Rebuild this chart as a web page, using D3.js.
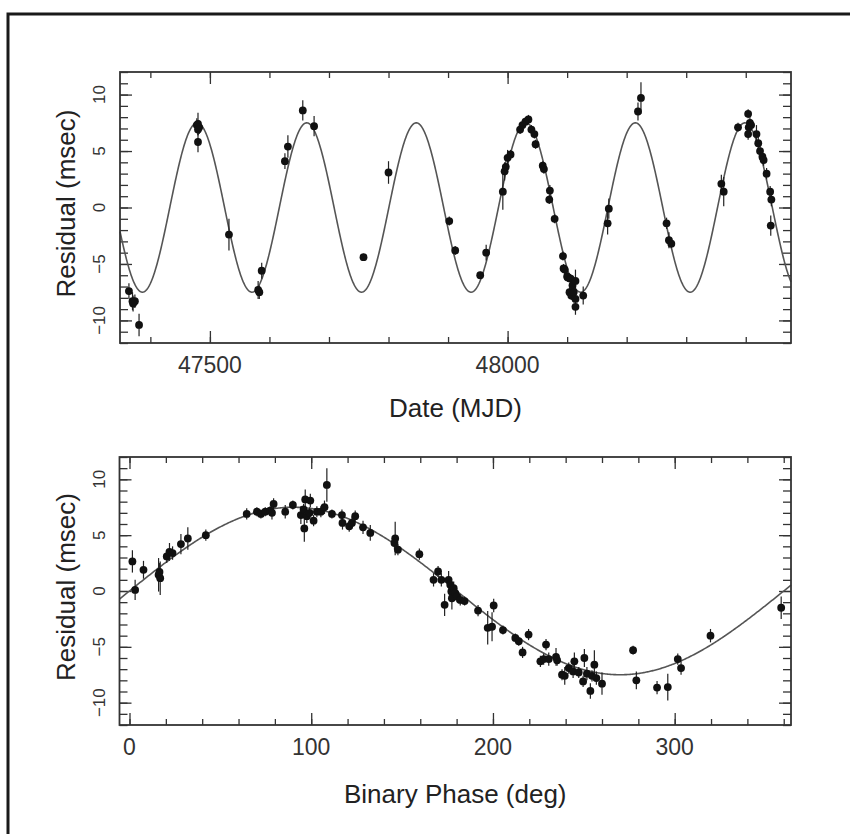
<!DOCTYPE html>
<html>
<head>
<meta charset="utf-8">
<script src="https://cdn.jsdelivr.net/npm/d3@7"></script>
<style>
  html, body { margin: 0; padding: 0; background: #fff; }
  svg { display: block; }
</style>
</head>
<body>
<svg width="850" height="834"></svg>
<script>
// top panel: timing residuals vs date
var topDate = [47364, 47370, 47374, 47371, 47381, 47478, 47480, 47482, 47480, 47480,
  47532, 47581, 47583, 47587, 47626, 47631, 47656, 47675, 47758, 47800,
  47902, 47912, 47954, 47964, 47992, 47995, 47997, 48000, 48005, 48021,
  48025, 48030, 48035, 48040, 48045, 48047, 48059, 48061, 48071, 48070,
  48079, 48093, 48094, 48096, 48100, 48101, 48104, 48106, 48107, 48109,
  48111, 48114, 48114, 48114, 48127, 48168, 48170, 48219, 48224, 48267,
  48271, 48275, 48359, 48363, 48387, 48404, 48407, 48405, 48404, 48409,
  48418, 48421, 48424, 48428, 48430, 48435, 48441, 48443, 48442];
var topRes = [-7.4, -8.3, -8.3, -8.5, -10.4, 7.3, 7.4, 7.1, 6.9, 5.8,
  -2.4, -7.3, -7.5, -5.6, 4.1, 5.4, 8.6, 7.2, -4.4, 3.1,
  -1.2, -3.8, -6.0, -4.0, 1.4, 3.2, 3.6, 4.4, 4.7, 6.9,
  7.3, 7.6, 7.8, 6.9, 6.5, 5.6, 3.7, 3.4, 1.5, 0.7,
  -1.0, -4.3, -5.4, -5.5, -6.1, -6.2, -7.5, -6.3, -7.8, -6.9,
  -7.5, -6.5, -8.1, -8.8, -7.8, -1.4, -0.1, 8.5, 9.7, -1.4,
  -2.9, -3.2, 2.1, 1.4, 7.1, 8.3, 7.5, 7.1, 6.5, 7.3,
  6.5, 5.7, 5.0, 4.5, 4.2, 3.0, 1.4, 0.7, -1.6];
var topErr = [0.7, 0.8, 0.6, 0.7, 1.0, 0.6, 1.0, 0.6, 0.5, 0.9,
  1.4, 0.8, 0.6, 0.7, 0.7, 1.0, 0.9, 0.9, 0.3, 1.0,
  0.4, 0.4, 0.3, 0.7, 1.6, 0.8, 0.5, 0.7, 0.4, 0.4,
  0.4, 0.4, 0.4, 0.4, 0.4, 0.4, 0.4, 0.4, 0.5, 0.4,
  0.4, 0.4, 0.4, 0.4, 0.4, 0.4, 0.4, 0.4, 0.4, 0.4,
  0.4, 1.0, 0.4, 0.7, 0.8, 1.0, 0.9, 0.8, 1.4, 0.5,
  0.7, 0.4, 0.8, 1.3, 0.4, 0.4, 0.8, 0.5, 0.5, 0.5,
  0.8, 0.6, 0.8, 0.6, 0.5, 0.5, 0.5, 0.6, 0.9];

// bottom panel: same residuals folded on binary phase
var phaseDeg = [1.6, 3.1, 7.7, 16, 16.9, 16.5, 20.5, 22, 23.7, 28.3,
  32.1, 42, 64.5, 70.1, 72.3, 74.7, 77.4, 79.3, 78.4, 85.7,
  89.9, 94.3, 95.8, 96.7, 99.5, 96.2, 97.6, 99.1, 101.3, 103.1,
  105.3, 107.3, 108.6, 111.4, 116.9, 117.2, 120.9, 122.4, 124.2, 128.5,
  132.5, 146.2, 145.8, 147.7, 159.5, 167.3, 169.8, 171.6, 173.4, 175.6,
  176.5, 177.1, 177.4, 178.4, 179.3, 180.2, 182, 184.4, 191.8, 200.4,
  197.1, 199.5, 205.5, 212.3, 214.2, 216.3, 219.6, 226.1, 227.9, 229.2,
  230.7, 234.7, 235.3, 238, 239.5, 241.7, 244.1, 244.8, 247.2, 249.6,
  250.3, 251.7, 253.6, 254.5, 255.8, 256.9, 260, 277.1, 278.9, 290.3,
  296.2, 301.7, 303.5, 319.7, 358.6];
var phaseRes = [2.65, 0.1, 1.9, 1.45, 1.15, 1.7, 3.1, 3.5, 3.4, 4.2,
  4.7, 5.0, 6.9, 7.1, 6.9, 7.1, 7.2, 7.8, 7.0, 7.1,
  7.7, 6.8, 7.3, 8.2, 8.1, 5.6, 6.7, 7.0, 6.3, 7.1,
  7.1, 7.5, 9.5, 6.9, 6.8, 6.1, 5.8, 6.1, 6.7, 5.7,
  5.2, 4.7, 4.3, 3.7, 3.3, 1.0, 1.75, 1.0, -1.24, 1.0,
  0.56, -0.04, -0.65, 0.25, -0.2, -0.5, -0.8, -0.9, -1.75, -1.3,
  -3.3, -3.2, -3.5, -4.2, -4.5, -5.5, -3.9, -6.3, -6.1, -4.8,
  -6.1, -5.9, -6.2, -7.5, -7.6, -6.9, -7.2, -6.3, -7.3, -8.1,
  -6.0, -7.4, -8.95, -7.6, -6.6, -7.8, -8.3, -5.3, -8.0, -8.65,
  -8.6, -6.1, -6.9, -4.0, -1.5];
var phaseErr = [1.0, 0.9, 0.8, 1.5, 1.5, 0.8, 0.6, 0.8, 0.6, 0.9,
  1.0, 0.5, 0.5, 0.4, 0.4, 0.4, 0.4, 0.5, 0.6, 0.6,
  0.4, 0.8, 0.5, 0.9, 0.6, 1.2, 0.6, 0.5, 0.5, 0.5,
  0.5, 0.6, 1.5, 0.4, 0.5, 0.6, 0.5, 0.5, 0.5, 0.6,
  0.7, 1.5, 0.6, 0.5, 0.5, 0.6, 0.5, 0.6, 1.0, 0.8,
  0.6, 0.9, 1.0, 0.6, 0.6, 0.5, 0.5, 0.4, 0.5, 0.6,
  1.5, 1.3, 0.4, 0.4, 0.4, 0.5, 0.5, 0.5, 0.5, 0.5,
  0.6, 0.8, 0.5, 0.5, 0.8, 0.5, 0.6, 0.8, 0.5, 0.5,
  0.8, 0.6, 0.7, 0.5, 1.3, 0.6, 1.0, 0.4, 0.8, 0.6,
  1.2, 0.5, 0.6, 0.6, 1.0];

// fitted orbit (msec, days, MJD of maximum)
var orbitAmp = 7.5, orbitPeriod = 184, orbitMaxEpoch = 47478.6;

var dateTicks = [47500, 48000], phaseTicks = [0, 100, 200, 300], resTicks = [-10, -5, 0, 5, 10];

var svg = d3.select('svg');
var FONT = '"Liberation Sans", Arial, Helvetica, sans-serif';

// page frame
svg.append('rect')
  .attr('x', 8).attr('y', 14).attr('width', 900).attr('height', 900)
  .attr('fill', 'none').attr('stroke', '#1a1a1a').attr('stroke-width', 3);

function panel(opt) {
  var g = svg.append('g');
  var x = d3.scaleLinear().domain(opt.xDomain).range([opt.left, opt.right]);
  var y = d3.scaleLinear().domain([-12, 12]).range([opt.bottom, opt.top]);

  function axes(gen, tx, ty, vals, size) {
    var a = g.append('g').attr('transform', 'translate(' + tx + ',' + ty + ')')
      .call(gen.tickValues(vals).tickSize(-size).tickFormat(''));
    a.select('.domain').remove();
    a.selectAll('line').attr('stroke', '#333').attr('stroke-width', 1.3);
    return a;
  }
  var xMinor = d3.range(opt.xMinorStart, opt.xDomain[1], opt.xMinorStep);
  var yMinor = d3.range(-12, 13, 1);
  axes(d3.axisBottom(x), 0, opt.bottom, xMinor, 6);
  axes(d3.axisTop(x), 0, opt.top, xMinor, 6);
  axes(d3.axisBottom(x), 0, opt.bottom, opt.xMajor, 12);
  axes(d3.axisTop(x), 0, opt.top, opt.xMajor, 12);
  axes(d3.axisLeft(y), opt.left, 0, yMinor, 8);
  axes(d3.axisRight(y), opt.right, 0, yMinor, 8);
  axes(d3.axisLeft(y), opt.left, 0, resTicks, 12);
  axes(d3.axisRight(y), opt.right, 0, resTicks, 12);

  // tick labels
  var fmt = d3.format('d');
  g.append('g').selectAll('text').data(opt.xMajor).join('text')
    .attr('x', function(d) { return x(d); })
    .attr('y', opt.bottom + 30)
    .attr('text-anchor', 'middle')
    .attr('font-family', FONT).attr('font-size', opt.xTickSize)
    .attr('fill', '#333')
    .text(function(d) { return d; });
  g.append('g').selectAll('text').data(resTicks).join('text')
    .attr('transform', function(d) { return 'translate(' + (opt.left - 15) + ',' + y(d) + ') rotate(-90)'; })
    .attr('text-anchor', 'middle')
    .attr('font-family', FONT).attr('font-size', 17)
    .attr('fill', '#333')
    .text(function(d) { return fmt(d); });

  // axis titles
  g.append('text')
    .attr('x', (opt.left + opt.right) / 2).attr('y', opt.bottom + opt.titleGap)
    .attr('text-anchor', 'middle')
    .attr('font-family', FONT).attr('font-size', 26).attr('fill', '#222')
    .text(opt.xTitle);
  g.append('text')
    .attr('transform', 'translate(75,' + ((opt.top + opt.bottom) / 2 - 4) + ') rotate(-90)')
    .attr('text-anchor', 'middle')
    .attr('font-family', FONT).attr('font-size', 26).attr('fill', '#222')
    .text('Residual (msec)');

  // model curve
  var line = d3.line().x(function(d) { return x(d[0]); }).y(function(d) { return y(d[1]); });
  g.append('path')
    .attr('d', line(opt.curve))
    .attr('fill', 'none').attr('stroke', '#555').attr('stroke-width', 1.6);

  // error bars + points
  var pts = opt.xs.map(function(v, i) { return [v, opt.ys[i], opt.es[i]]; });
  g.append('g').selectAll('line').data(pts).join('line')
    .attr('x1', function(d) { return x(d[0]); }).attr('x2', function(d) { return x(d[0]); })
    .attr('y1', function(d) { return y(d[1] - d[2]); }).attr('y2', function(d) { return y(d[1] + d[2]); })
    .attr('stroke', '#222').attr('stroke-width', 1.2);
  g.append('g').selectAll('circle').data(pts).join('circle')
    .attr('cx', function(d) { return x(d[0]); }).attr('cy', function(d) { return y(d[1]); })
    .attr('r', 3.9).attr('fill', '#111');

  // box
  g.append('rect')
    .attr('x', opt.left).attr('y', opt.top)
    .attr('width', opt.right - opt.left).attr('height', opt.bottom - opt.top)
    .attr('fill', 'none').attr('stroke', '#333').attr('stroke-width', 1.8);
}

var dDom = [47349, 48476];
panel({
  left: 120, right: 791, top: 72, bottom: 343,
  xDomain: dDom, xMinorStart: 47400, xMinorStep: 100, xMajor: dateTicks,
  xTickSize: 23, titleGap: 74, xTitle: 'Date (MJD)',
  xs: topDate, ys: topRes, es: topErr,
  curve: d3.range(dDom[0], dDom[1] + 1, 1).map(function(t) {
    return [t, orbitAmp * Math.cos(2 * Math.PI * (t - orbitMaxEpoch) / orbitPeriod)];
  })
});

var pDom = [-5.5, 364];
panel({
  left: 119.5, right: 791, top: 457, bottom: 725,
  xDomain: pDom, xMinorStart: 0, xMinorStep: 20, xMajor: phaseTicks,
  xTickSize: 23, titleGap: 78, xTitle: 'Binary Phase (deg)',
  xs: phaseDeg, ys: phaseRes, es: phaseErr,
  curve: d3.range(pDom[0], pDom[1] + 0.5, 0.5).map(function(p) {
    return [p, orbitAmp * Math.sin(p * Math.PI / 180)];
  })
});
</script>
</body>
</html>
